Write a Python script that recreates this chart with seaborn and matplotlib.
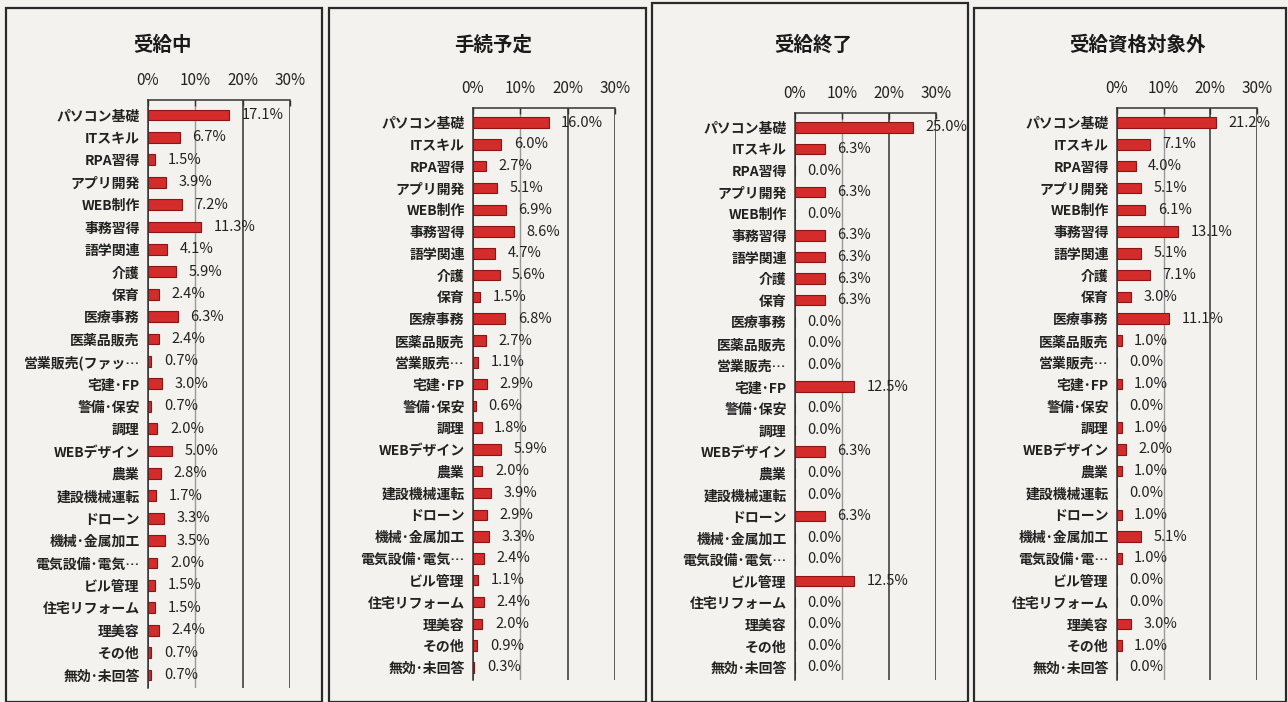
import matplotlib
matplotlib.use("Agg")
import matplotlib.pyplot as plt
from matplotlib.patches import Rectangle
import seaborn as sns

# データ（割合 %）
categories = ["パソコン基礎", "ITスキル", "RPA習得", "アプリ開発", "WEB制作", "事務習得",
              "語学関連", "介護", "保育", "医療事務", "医薬品販売", "営業販売(ファッ…",
              "宅建･FP", "警備･保安", "調理", "WEBデザイン", "農業", "建設機械運転",
              "ドローン", "機械･金属加工", "電気設備･電気…", "ビル管理", "住宅リフォーム",
              "理美容", "その他", "無効･未回答"]

titles = ["受給中", "手続予定", "受給終了", "受給資格対象外"]

jukyu_chu = [17.1, 6.7, 1.5, 3.9, 7.2, 11.3, 4.1, 5.9, 2.4, 6.3, 2.4, 0.7, 3.0,
             0.7, 2.0, 5.0, 2.8, 1.7, 3.3, 3.5, 2.0, 1.5, 1.5, 2.4, 0.7, 0.7]
tetsuzuki_yotei = [16.0, 6.0, 2.7, 5.1, 6.9, 8.6, 4.7, 5.6, 1.5, 6.8, 2.7, 1.1, 2.9,
                   0.6, 1.8, 5.9, 2.0, 3.9, 2.9, 3.3, 2.4, 1.1, 2.4, 2.0, 0.9, 0.3]
jukyu_shuryo = [25.0, 6.3, 0.0, 6.3, 0.0, 6.3, 6.3, 6.3, 6.3, 0.0, 0.0, 0.0, 12.5,
                0.0, 0.0, 6.3, 0.0, 0.0, 6.3, 0.0, 0.0, 12.5, 0.0, 0.0, 0.0, 0.0]
taisho_gai = [21.2, 7.1, 4.0, 5.1, 6.1, 13.1, 5.1, 7.1, 3.0, 11.1, 1.0, 0.0, 1.0,
              0.0, 1.0, 2.0, 1.0, 0.0, 1.0, 5.1, 1.0, 0.0, 0.0, 3.0, 1.0, 0.0]

# パネルごとの省略ラベル
label_overrides = [
    {},
    {11: "営業販売…"},
    {11: "営業販売…"},
    {11: "営業販売…", 20: "電気設備･電…"},
]

x_ticks = [0, 10, 20, 30]

W, H = 1288, 702
# パネル配置 (px): 軸の左, 右, 上, 下 / 枠の左, 右, 上 / タイトル中心x
panels = [
    dict(ax=(148, 290, 100, 688), box=(6, 322, 8), tx=163),
    dict(ax=(473, 615, 108, 680), box=(329, 646, 8), tx=493),
    dict(ax=(795, 936, 113, 680), box=(652, 968, 3), tx=813),
    dict(ax=(1117, 1257, 108, 680), box=(974, 1286, 8), tx=1138),
]
series = [jukyu_chu, tetsuzuki_yotei, jukyu_shuryo, taisho_gai]

sns.set_style("white")
plt.rcParams["font.family"] = ["Noto Sans CJK JP", "DejaVu Sans"]

fig = plt.figure(figsize=(W / 100, H / 100), dpi=100)
fig.patch.set_facecolor("#f3f2ee")

for i, (values, p) in enumerate(zip(series, panels)):
    l, r, t, b = p["ax"]
    ax = fig.add_axes([l / W, 1 - b / H, (r - l) / W, (b - t) / H])
    ax.set_facecolor("none")

    labels = [label_overrides[i].get(k, c) for k, c in enumerate(categories)]
    sns.barplot(x=values, y=labels, orient="h", ax=ax, color="#d42b2b",
                width=0.48, edgecolor="#8e1414", linewidth=0.8, saturation=1)

    ax.bar_label(ax.containers[0], labels=[f"{v:.1f}%" for v in values],
                 padding=9, fontsize=10.5, color="#222222")

    ax.set_xlim(0, 30)
    ax.set_ylim(len(categories) - 0.42, -0.67)
    ax.set_xlabel("")
    ax.set_ylabel("")

    # 上側の目盛り
    ax.xaxis.tick_top()
    ax.set_xticks(x_ticks)
    ax.set_xticklabels([f"{t}%" for t in x_ticks], fontsize=11, color="#222222")
    ax.tick_params(axis="x", direction="in", length=4, width=1, color="#333333", pad=8)

    # 左側：区切り目盛り
    ax.set_yticks(range(len(categories)))
    ax.set_yticklabels(labels, fontsize=10, fontweight="bold", color="#222222")
    ax.set_yticks([k - 0.5 for k in range(len(categories) + 1)], minor=True)
    ax.tick_params(axis="y", which="major", length=0, pad=6)
    ax.tick_params(axis="y", which="minor", direction="out", length=3, width=1, color="#333333")

    for side in ["right", "bottom"]:
        ax.spines[side].set_visible(False)
    for side in ["top", "left"]:
        ax.spines[side].set_color("#333333")
        ax.spines[side].set_linewidth(1.1)

    # 縦の目盛線
    ax.xaxis.grid(True)
    for k, gl in enumerate(ax.get_xgridlines()):
        gl.set_color("#999999" if k == 1 else "#333333")
        gl.set_linewidth(1.0 if k == 1 else 1.1)
    ax.set_axisbelow(True)

    # タイトル
    fig.text(p["tx"] / W, 1 - 45 / H, titles[i], fontsize=14, fontweight="bold",
             ha="center", va="center", color="#1a1a1a")

    # パネル枠
    bl, br, bt = p["box"]
    fig.patches.append(Rectangle((bl / W, 0), (br - bl) / W, 1 - bt / H,
                                 transform=fig.transFigure, fill=False,
                                 edgecolor="#2a2a2a", linewidth=1.6))

fig.savefig("out.png", dpi=100, facecolor=fig.get_facecolor())
